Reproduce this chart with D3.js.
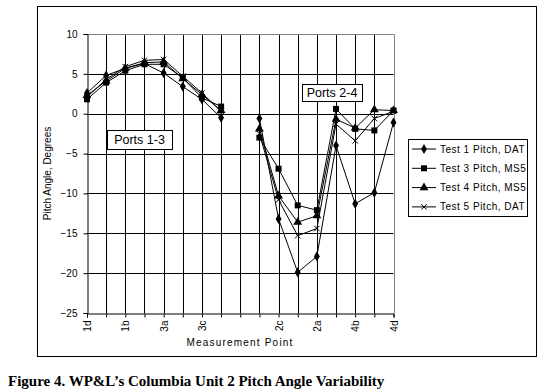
<!DOCTYPE html>
<head>
  <meta charset="UTF-8">
  <title>pitch angle</title>
  <style>
  body, html, svg{
    padding: 0;
    margin: 0;
  }
  body{
    background: #fff;
  }
  text{
    font-family: Arial, "Liberation Sans", sans-serif;
    fill: #000;
  }
  </style>
</head>
<body>
  <script src="https://cdn.jsdelivr.net/npm/d3@7"></script>
  <script type="text/javascript">
  // categories (measurement points), only every other one is labelled
  var categories = ['1d','1c','1b','1a','3a','3b','3c','3d','gap','2d','2c','2b','2a','4a','4b','4c','4d'];
  var tickLabels = ['1d','1b','3a','3c','2c','2a','4b','4d'];
  var yTicks = [10, 5, 0, -5, -10, -15, -20, -25];

  var test1 = [2.6, 4.8, 5.7, 6.3, 5.1, 3.4, 1.8, -0.5, null, -0.6, -13.2, -19.9, -17.9, -4.0, -11.3, -9.9, -1.1];
  var test3 = [1.8, 3.9, 5.4, 6.2, 6.2, 4.5, 2.0, 0.9, null, -3.0, -6.9, -11.5, -12.1, 0.6, -1.9, -2.1, 0.4];
  var test4 = [2.3, 4.1, 5.7, 6.4, 6.5, 4.4, 2.4, 0.4, null, -1.9, -10.3, -13.6, -12.8, -0.7, -1.8, 0.5, 0.4];
  var test5 = [2.1, 4.3, 5.9, 6.7, 6.8, 4.7, 2.6, 0.3, null, -2.5, -10.8, -15.3, -14.4, -1.3, -3.4, -0.6, 0.3];

  var seriesNames = ['Test 1 Pitch, DAT', 'Test 3 Pitch, MS5', 'Test 4 Pitch, MS5', 'Test 5 Pitch, DAT'];
  var seriesData = [test1, test3, test4, test5];
  var symbols = [d3.symbolDiamond, d3.symbolSquare, d3.symbolTriangle, d3.symbolX];
  var symbolSizes = [30, 36, 34, 22];

  var width = 545, height = 392;
  var pLeft = 87, pRight = 393.5, pTop = 34, pBottom = 313;

  var svg = d3.select('body')
    .append('svg')
    .attr('width', width)
    .attr('height', height);

  //外框
  svg.append('rect')
    .attr('x', 37.5).attr('y', 6.5)
    .attr('width', 499).attr('height', 350)
    .attr('fill', 'none').attr('stroke', '#000');

  var x = d3.scalePoint().domain(categories).range([pLeft, pRight]);
  var y = d3.scaleLinear().domain([-25, 10]).range([pBottom, pTop]);

  //网格
  var grid = svg.append('g');
  grid.selectAll('.hg')
    .data(yTicks.filter(function(d){ return d > -25 && d < 10; }))
    .enter().append('line')
    .attr('x1', pLeft).attr('x2', pRight)
    .attr('y1', function(d){ return Math.round(y(d)) + 0.5; })
    .attr('y2', function(d){ return Math.round(y(d)) + 0.5; })
    .attr('stroke', '#000');
  grid.selectAll('.vg')
    .data(categories.slice(1, -1))
    .enter().append('line')
    .attr('x1', function(d){ return Math.round(x(d)) + 0.5; })
    .attr('x2', function(d){ return Math.round(x(d)) + 0.5; })
    .attr('y1', pTop).attr('y2', pBottom)
    .attr('stroke', '#000');
  // gray top and right border
  grid.append('path')
    .attr('d', 'M' + pLeft + ',' + (pTop + 0.5) + 'H' + (Math.round(pRight) + 0.5) + 'V' + pBottom)
    .attr('fill', 'none').attr('stroke', '#808080');

  //坐标轴
  var yAxis = svg.append('g')
    .attr('transform', 'translate(' + (pLeft + 0.5) + ',0)')
    .call(d3.axisLeft(y).tickValues(yTicks).tickSize(4).tickPadding(6));
  var xAxis = svg.append('g')
    .attr('transform', 'translate(0,' + (pBottom + 0.5) + ')')
    .call(d3.axisBottom(x).tickSize(4).tickFormat(function(d){ return tickLabels.indexOf(d) >= 0 ? d : ''; }));
  svg.selectAll('.domain').attr('stroke', '#000');
  svg.selectAll('.tick line').attr('stroke', '#000');
  yAxis.selectAll('text').style('font-size', '10px').style('font-family', 'Arial, "Liberation Sans", sans-serif');
  xAxis.selectAll('text')
    .style('font-size', '10px')
    .style('font-family', 'Arial, "Liberation Sans", sans-serif')
    .attr('transform', 'rotate(-90)')
    .attr('text-anchor', 'end')
    .attr('x', -7).attr('y', 0).attr('dy', '0.35em');

  svg.append('text')
    .attr('transform', 'translate(51,' + ((pTop + pBottom) / 2) + ') rotate(-90)')
    .attr('text-anchor', 'middle')
    .style('font-size', '10px')
    .text('Pitch Angle, Degrees');
  svg.append('text')
    .attr('x', 240).attr('y', 346)
    .attr('text-anchor', 'middle')
    .style('font-size', '10px')
    .attr('letter-spacing', 1.2)
    .text('Measurement Point');

  //折线
  var line = d3.line()
    .defined(function(d){ return d != null; })
    .x(function(d, i){ return x(categories[i]); })
    .y(function(d){ return y(d); });

  seriesData.forEach(function(vals, k){
    svg.append('path')
      .datum(vals)
      .attr('d', line)
      .attr('fill', 'none')
      .attr('stroke', '#000')
      .attr('stroke-width', 1);
    svg.append('g').selectAll('path')
      .data(vals.map(function(v, i){ return {v: v, c: categories[i]}; }).filter(function(d){ return d.v != null; }))
      .enter().append('path')
      .attr('transform', function(d){ return 'translate(' + x(d.c) + ',' + y(d.v) + ')'; })
      .attr('d', d3.symbol().type(symbols[k]).size(symbolSizes[k]))
      .attr('fill', '#000')
      .attr('stroke', '#000')
      .attr('stroke-width', k == 3 ? 1 : 0);
  });

  //标注
  function box(x0, y0, w, h, label){
    svg.append('rect')
      .attr('x', x0 + 0.5).attr('y', y0 + 0.5)
      .attr('width', w).attr('height', h)
      .attr('fill', '#fff').attr('stroke', '#000');
    svg.append('text')
      .attr('x', x0 + w / 2).attr('y', y0 + h / 2 + 4.5)
      .attr('text-anchor', 'middle')
      .style('font-size', '12.5px')
      .text(label);
  }
  box(107, 130, 65, 19, 'Ports 1-3');
  box(302, 84, 60, 17, 'Ports 2-4');

  //图例
  var legend = svg.append('g');
  legend.append('rect')
    .attr('x', 408.5).attr('y', 139.5)
    .attr('width', 119).attr('height', 77)
    .attr('fill', '#fff').attr('stroke', '#000');
  seriesNames.forEach(function(name, k){
    var ly = 149 + k * 19.3;
    legend.append('line')
      .attr('x1', 412).attr('x2', 436)
      .attr('y1', ly).attr('y2', ly)
      .attr('stroke', '#000');
    legend.append('path')
      .attr('transform', 'translate(424,' + ly + ')')
      .attr('d', d3.symbol().type(symbols[k]).size(symbolSizes[k]))
      .attr('fill', '#000')
      .attr('stroke', '#000')
      .attr('stroke-width', k == 3 ? 1 : 0);
    legend.append('text')
      .attr('x', 440).attr('y', ly + 3.5)
      .style('font-size', '10px')
      .attr('letter-spacing', 0.5)
      .text(name);
  });

  //图注
  svg.append('text')
    .attr('x', 8).attr('y', 386)
    .style('font-family', '"Times New Roman", "Liberation Serif", serif')
    .style('font-weight', 'bold')
    .style('font-size', '15px')
    .text('Figure 4. WP&L\u2019s Columbia Unit 2 Pitch Angle Variability');
  </script>
</body>
</html>
